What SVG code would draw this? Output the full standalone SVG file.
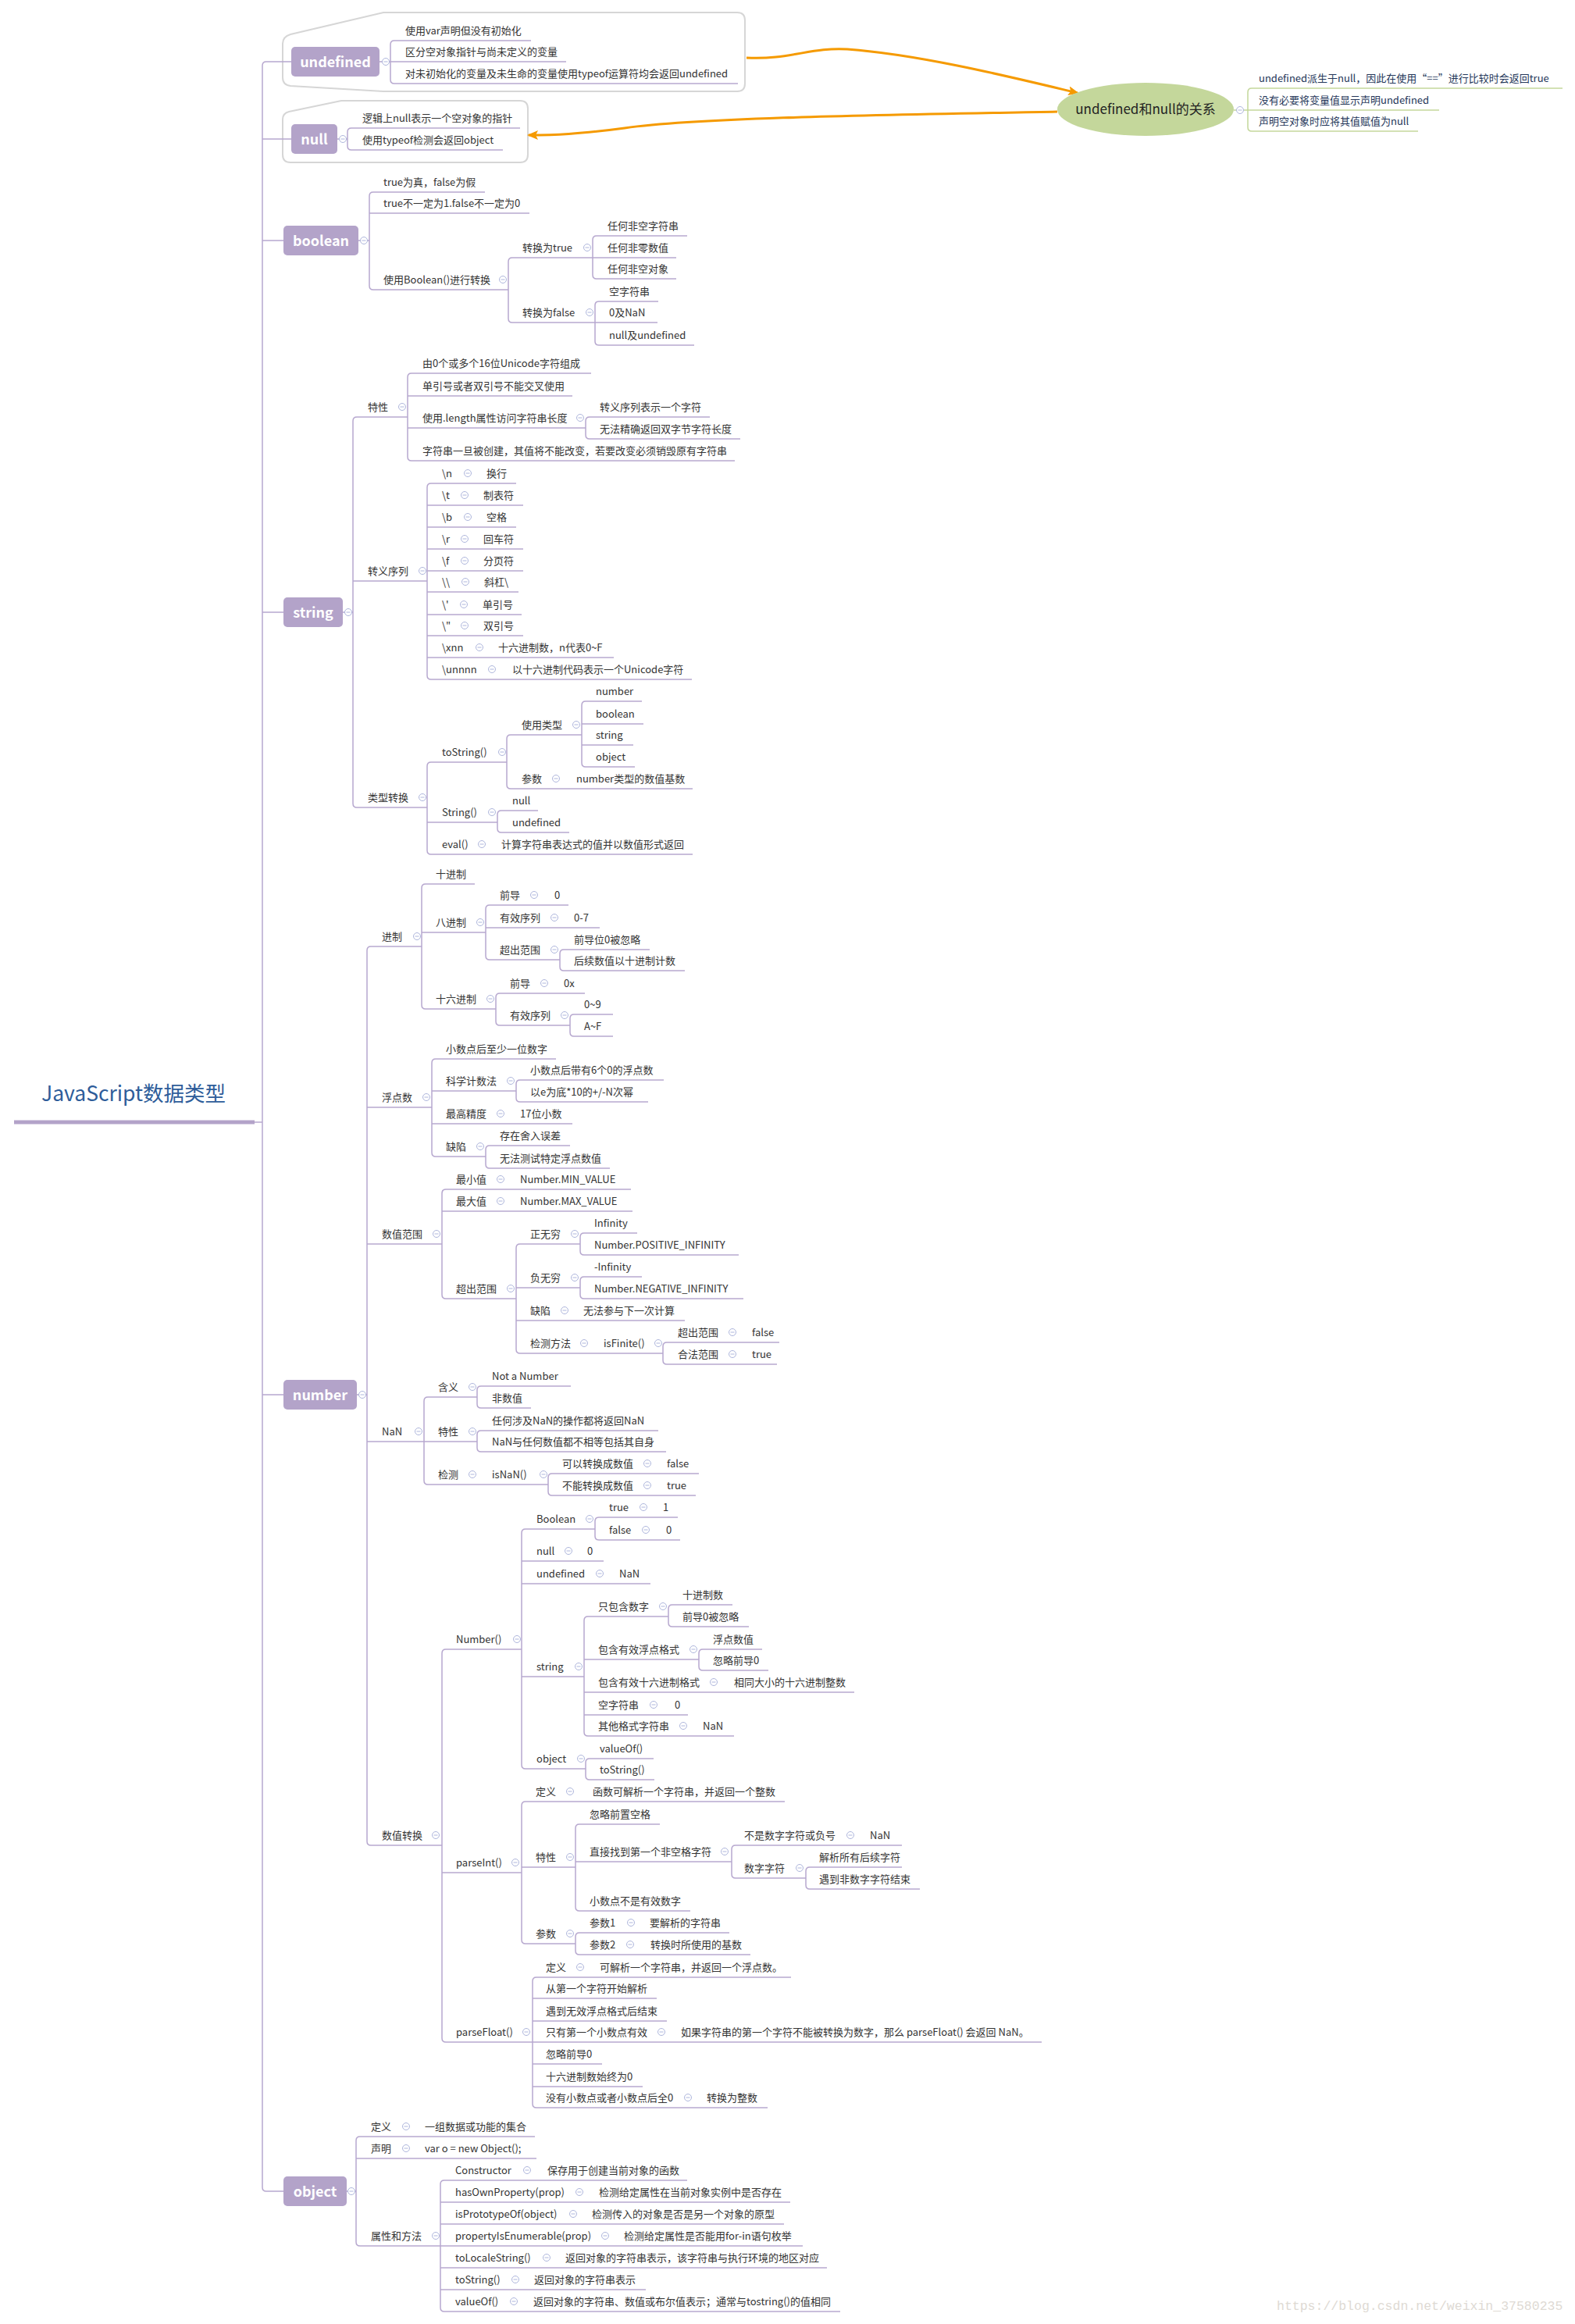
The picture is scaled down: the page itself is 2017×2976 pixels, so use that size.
<svg xmlns="http://www.w3.org/2000/svg" xmlns:xlink="http://www.w3.org/1999/xlink" width="2017" height="2976" viewBox="0 0 2017 2976">
<style>
.t{font-family:"Noto Sans CJK SC","Liberation Sans",sans-serif;font-size:13px;fill:#333}
.g{fill:#243659}
.u{stroke:#b7a8cf;stroke-width:1.5;fill:none}
.gl{stroke:#c4d79b;stroke-width:1.5;fill:none}
.box{fill:#b3a3c9}
.bt{font-family:"Noto Sans CJK SC","Liberation Sans",sans-serif;font-size:18px;font-weight:bold;fill:#fff;text-anchor:middle}
.bd{fill:#fff;stroke:#d6d6d6;stroke-width:2}
.or{stroke:#f59a00;stroke-width:3;fill:none}
</style>
<defs>
<g id="m"><circle r="4.5" fill="#fff" stroke="#aeb6dc" stroke-width="1"/><path d="M-2.5 0H2.5" stroke="#aeb6dc" stroke-width="1"/></g>
<marker id="ar" viewBox="0 0 14 12" refX="12" refY="6" markerWidth="14" markerHeight="12" markerUnits="userSpaceOnUse" orient="auto"><path d="M0 0L14 6L0 12L3 6Z" fill="#f59a00"/></marker>
</defs>
<rect width="2017" height="2976" fill="#fff"/>

<g id="boundaries">
<path class="bd" d="M372 44L491 16H944Q954 16 954 26V107Q954 117 944 117H491L372 110Q362 109 362 99V56Q362 47 372 44Z"/>
<path class="bd" d="M370 143L437 129H666Q676 129 676 139V198Q676 208 666 208H372Q362 208 362 198V153Q362 145 370 143Z"/>
</g>

<g id="connectors">
<path class="u" d="M373 79H341Q336 79 336 84V2801Q336 2806 341 2806H363"/>
<path class="u" d="M336 178H373M336 308H363M336 784H363M336 1786H363M326 1437H336"/>
<path class="u" d="M486 79H500M432 178H445M459 308H473M439 784H452M457 1786H470M444 2806H456"/>
<path class="u" d="M505 52Q500 52 500 57V102Q500 107 505 107"/>
<path class="u" d="M450 164Q445 164 445 169V187Q445 192 450 192"/>
<path class="u" d="M478 246Q473 246 473 251V366Q473 371 478 371"/>
<path class="u" d="M656 330Q651 330 651 335V408Q651 413 656 413"/>
<path class="u" d="M764 302Q759 302 759 307V352Q759 357 764 357"/>
<path class="u" d="M767 386Q762 386 762 391V437Q762 442 767 442"/>
<path class="u" d="M457 534Q452 534 452 539V1029Q452 1034 457 1034"/>
<path class="u" d="M527 478Q522 478 522 483V585Q522 590 527 590"/>
<path class="u" d="M755 534Q750 534 750 539V557Q750 562 755 562"/>
<path class="u" d="M552 619Q547 619 547 624V865Q547 870 552 870"/>
<path class="u" d="M552 976Q547 976 547 981V1089Q547 1094 552 1094"/>
<path class="u" d="M654 941Q649 941 649 946V1005Q649 1010 654 1010"/>
<path class="u" d="M750 898Q745 898 745 903V977Q745 982 750 982"/>
<path class="u" d="M642 1038Q637 1038 637 1043V1061Q637 1066 642 1066"/>
<path class="u" d="M475 1212Q470 1212 470 1217V2358Q470 2363 475 2363"/>
<path class="u" d="M545 1132Q540 1132 540 1137V1287Q540 1292 545 1292"/>
<path class="u" d="M627 1159Q622 1159 622 1164V1224Q622 1229 627 1229"/>
<path class="u" d="M722 1216Q717 1216 717 1221V1238Q717 1243 722 1243"/>
<path class="u" d="M640 1272Q635 1272 635 1277V1308Q635 1313 640 1313"/>
<path class="u" d="M735 1299Q730 1299 730 1304V1322Q730 1327 735 1327"/>
<path class="u" d="M558 1356Q553 1356 553 1361V1476Q553 1481 558 1481"/>
<path class="u" d="M666 1383Q661 1383 661 1388V1406Q661 1411 666 1411"/>
<path class="u" d="M627 1467Q622 1467 622 1472V1491Q622 1496 627 1496"/>
<path class="u" d="M571 1523Q566 1523 566 1528V1658Q566 1663 571 1663"/>
<path class="u" d="M666 1593Q661 1593 661 1598V1728Q661 1733 666 1733"/>
<path class="u" d="M748 1579Q743 1579 743 1584V1602Q743 1607 748 1607"/>
<path class="u" d="M748 1635Q743 1635 743 1640V1658Q743 1663 748 1663"/>
<path class="u" d="M854 1719Q849 1719 849 1724V1742Q849 1747 854 1747"/>
<path class="u" d="M548 1789Q543 1789 543 1794V1896Q543 1901 548 1901"/>
<path class="u" d="M616 1775Q611 1775 611 1780V1798Q611 1803 616 1803"/>
<path class="u" d="M616 1832Q611 1832 611 1837V1854Q611 1859 616 1859"/>
<path class="u" d="M707 1887Q702 1887 702 1892V1910Q702 1915 707 1915"/>
<path class="u" d="M571 2112Q566 2112 566 2117V2610Q566 2615 571 2615"/>
<path class="u" d="M673 1958Q668 1958 668 1963V2260Q668 2265 673 2265"/>
<path class="u" d="M767 1943Q762 1943 762 1948V1967Q762 1972 767 1972"/>
<path class="u" d="M753 2070Q748 2070 748 2075V2218Q748 2223 753 2223"/>
<path class="u" d="M861 2055Q856 2055 856 2060V2078Q856 2083 861 2083"/>
<path class="u" d="M900 2112Q895 2112 895 2117V2134Q895 2139 900 2139"/>
<path class="u" d="M755 2252Q750 2252 750 2257V2274Q750 2279 755 2279"/>
<path class="u" d="M673 2307Q668 2307 668 2312V2484Q668 2489 673 2489"/>
<path class="u" d="M742 2336Q737 2336 737 2341V2442Q737 2447 742 2447"/>
<path class="u" d="M942 2363Q937 2363 937 2368V2400Q937 2405 942 2405"/>
<path class="u" d="M1037 2391Q1032 2391 1032 2396V2414Q1032 2419 1037 2419"/>
<path class="u" d="M742 2475Q737 2475 737 2480V2498Q737 2503 742 2503"/>
<path class="u" d="M687 2532Q682 2532 682 2537V2694Q682 2699 687 2699"/>
<path class="u" d="M461 2736Q456 2736 456 2741V2871Q456 2876 461 2876"/>
<path class="u" d="M569 2792Q564 2792 564 2797V2955Q564 2960 569 2960"/>
<path class="gl" d="M1580 141H1598M1603 113Q1598 113 1598 118V163Q1598 168 1603 168"/>
<path class="or" marker-end="url(#ar)" d="M956 74C1010 77 1040 60 1085 63C1180 70 1300 100 1380 119"/>
<path class="or" marker-end="url(#ar)" d="M1354 143C1150 147 900 150 800 164C740 172 710 173 677 173"/>
</g>

<g id="title">
<text x="53" y="1410" style="font-family:'Noto Sans CJK SC','Liberation Sans',sans-serif;font-size:26.5px;fill:#2e5d9a">JavaScript数据类型</text>
<path d="M18 1437H326" stroke="#b3a3c9" stroke-width="5"/>
</g>

<g id="relation">
<ellipse cx="1467" cy="140" rx="113" ry="34" fill="#c4d79b"/>
<text x="1467" y="146" text-anchor="middle" style="font-family:'Noto Sans CJK SC','Liberation Sans',sans-serif;font-size:17px;fill:#222">undefined和null的关系</text>
<use href="#m" x="1588" y="141"/>
</g>
<g id="rel-1"><path class="gl" d="M1603 113H2001"/><text class="t g" x="1612" y="105">undefined派生于null，因此在使用“==”进行比较时会返回true</text></g>
<g id="rel-2"><path class="gl" d="M1598 141H1843"/><text class="t g" x="1612" y="133">没有必要将变量值显示声明undefined</text></g>
<g id="rel-3"><path class="gl" d="M1603 168H1816"/><text class="t g" x="1612" y="160">声明空对象时应将其值赋值为null</text></g>

<!-- undefined -->
<g id="undefined"><rect class="box" x="373" y="60" width="113" height="38" rx="5"/><text class="bt" x="429.5" y="85.5">undefined</text><use href="#m" x="494" y="79"/></g>
<g id="u-1"><path class="u" d="M505 52H680"/><text class="t" x="519" y="44">使用var声明但没有初始化</text></g>
<g id="u-2"><path class="u" d="M500 79H725"/><text class="t" x="519" y="71">区分空对象指针与尚未定义的变量</text></g>
<g id="u-3"><path class="u" d="M505 107H945"/><text class="t" x="519" y="99">对未初始化的变量及未生命的变量使用typeof运算符均会返回undefined</text></g>

<!-- null -->
<g id="null"><rect class="box" x="373" y="159" width="59" height="38" rx="5"/><text class="bt" x="402.5" y="184.5">null</text><use href="#m" x="439" y="178"/></g>
<g id="n-1"><path class="u" d="M450 164H666"/><text class="t" x="464" y="156">逻辑上null表示一个空对象的指针</text></g>
<g id="n-2"><path class="u" d="M450 192H644"/><text class="t" x="464" y="184">使用typeof检测会返回object</text></g>

<!-- boolean -->
<g id="boolean"><rect class="box" x="363" y="289" width="96" height="38" rx="5"/><text class="bt" x="411" y="314.5">boolean</text><use href="#m" x="466" y="308"/></g>
<g id="b-1"><path class="u" d="M478 246H621"/><text class="t" x="491" y="238">true为真，false为假</text></g>
<g id="b-2"><path class="u" d="M473 273H678"/><text class="t" x="491" y="265">true不一定为1.false不一定为0</text></g>
<g id="b-3"><path class="u" d="M478 371H651"/><text class="t" x="491" y="363">使用Boolean()进行转换</text><use href="#m" x="644" y="358"/></g>
<g id="b-3-1"><path class="u" d="M656 330H759"/><text class="t" x="669" y="322">转换为true</text><use href="#m" x="752" y="317"/></g>
<g id="b-3-1-1"><path class="u" d="M764 302H880"/><text class="t" x="778" y="294">任何非空字符串</text></g>
<g id="b-3-1-2"><path class="u" d="M759 330H866"/><text class="t" x="778" y="322">任何非零数值</text></g>
<g id="b-3-1-3"><path class="u" d="M764 357H866"/><text class="t" x="778" y="349">任何非空对象</text></g>
<g id="b-3-2"><path class="u" d="M656 413H762"/><text class="t" x="669" y="405">转换为false</text><use href="#m" x="755" y="400"/></g>
<g id="b-3-2-1"><path class="u" d="M767 386H843"/><text class="t" x="780" y="378">空字符串</text></g>
<g id="b-3-2-2"><path class="u" d="M762 413H842"/><text class="t" x="780" y="405">0及NaN</text></g>
<g id="b-3-2-3"><path class="u" d="M767 442H889"/><text class="t" x="780" y="434">null及undefined</text></g>

<!-- string -->
<g id="string"><rect class="box" x="363" y="765" width="76" height="38" rx="5"/><text class="bt" x="401" y="790.5">string</text><use href="#m" x="446" y="784"/></g>
<g id="s-1"><path class="u" d="M457 534H522"/><text class="t" x="471" y="526">特性</text><use href="#m" x="515" y="521"/></g>
<g id="s-1-1"><path class="u" d="M527 478H757"/><text class="t" x="541" y="470">由0个或多个16位Unicode字符组成</text></g>
<g id="s-1-2"><path class="u" d="M522 507H733"/><text class="t" x="541" y="499">单引号或者双引号不能交叉使用</text></g>
<g id="s-1-3"><path class="u" d="M522 548H750"/><text class="t" x="541" y="540">使用.length属性访问字符串长度</text><use href="#m" x="743" y="535"/></g>
<g id="s-1-3-1"><path class="u" d="M755 534H909"/><text class="t" x="768" y="526">转义序列表示一个字符</text></g>
<g id="s-1-3-2"><path class="u" d="M755 562H948"/><text class="t" x="768" y="554">无法精确返回双字节字符长度</text></g>
<g id="s-1-4"><path class="u" d="M527 590H941"/><text class="t" x="541" y="582">字符串一旦被创建，其值将不能改变，若要改变必须销毁原有字符串</text></g>
<g id="s-2"><path class="u" d="M452 744H547"/><text class="t" x="471" y="736">转义序列</text><use href="#m" x="541" y="731"/></g>
<g id="s-2-1"><path class="u" d="M552 619H661"/><text class="t" x="566" y="611">\n</text><use href="#m" x="599" y="606"/><text class="t" x="623" y="611">换行</text></g>
<g id="s-2-2"><path class="u" d="M547 647H670"/><text class="t" x="566" y="639">\t</text><use href="#m" x="595" y="634"/><text class="t" x="619" y="639">制表符</text></g>
<g id="s-2-3"><path class="u" d="M547 675H661"/><text class="t" x="566" y="667">\b</text><use href="#m" x="599" y="662"/><text class="t" x="623" y="667">空格</text></g>
<g id="s-2-4"><path class="u" d="M547 703H670"/><text class="t" x="566" y="695">\r</text><use href="#m" x="595" y="690"/><text class="t" x="619" y="695">回车符</text></g>
<g id="s-2-5"><path class="u" d="M547 731H670"/><text class="t" x="566" y="723">\f</text><use href="#m" x="595" y="718"/><text class="t" x="619" y="723">分页符</text></g>
<g id="s-2-6"><path class="u" d="M547 758H664"/><text class="t" x="566" y="750">\\</text><use href="#m" x="596" y="745"/><text class="t" x="620" y="750">斜杠\</text></g>
<g id="s-2-7"><path class="u" d="M547 787H668"/><text class="t" x="566" y="779">\'</text><use href="#m" x="594" y="774"/><text class="t" x="618" y="779">单引号</text></g>
<g id="s-2-8"><path class="u" d="M547 814H670"/><text class="t" x="566" y="806">\"</text><use href="#m" x="595" y="801"/><text class="t" x="619" y="806">双引号</text></g>
<g id="s-2-9"><path class="u" d="M547 842H786"/><text class="t" x="566" y="834">\xnn</text><use href="#m" x="614" y="829"/><text class="t" x="638" y="834">十六进制数，n代表0~F</text></g>
<g id="s-2-10"><path class="u" d="M552 870H886"/><text class="t" x="566" y="862">\unnnn</text><use href="#m" x="630" y="857"/><text class="t" x="656" y="862">以十六进制代码表示一个Unicode字符</text></g>
<g id="s-3"><path class="u" d="M457 1034H547"/><text class="t" x="471" y="1026">类型转换</text><use href="#m" x="541" y="1021"/></g>
<g id="s-3-1"><path class="u" d="M552 976H649"/><text class="t" x="566" y="968">toString()</text><use href="#m" x="643" y="963"/></g>
<g id="s-3-1-1"><path class="u" d="M654 941H745"/><text class="t" x="668" y="933">使用类型</text><use href="#m" x="738" y="928"/></g>
<g id="s-3-1-1-1"><path class="u" d="M750 898H822"/><text class="t" x="763" y="890">number</text></g>
<g id="s-3-1-1-2"><path class="u" d="M745 927H824"/><text class="t" x="763" y="919">boolean</text></g>
<g id="s-3-1-1-3"><path class="u" d="M745 954H811"/><text class="t" x="763" y="946">string</text></g>
<g id="s-3-1-1-4"><path class="u" d="M750 982H813"/><text class="t" x="763" y="974">object</text></g>
<g id="s-3-1-2"><path class="u" d="M654 1010H887"/><text class="t" x="668" y="1002">参数</text><use href="#m" x="712" y="997"/><text class="t" x="738" y="1002">number类型的数值基数</text></g>
<g id="s-3-2"><path class="u" d="M547 1053H637"/><text class="t" x="566" y="1045">String()</text><use href="#m" x="630" y="1040"/></g>
<g id="s-3-2-1"><path class="u" d="M642 1038H689"/><text class="t" x="656" y="1030">null</text></g>
<g id="s-3-2-2"><path class="u" d="M642 1066H729"/><text class="t" x="656" y="1058">undefined</text></g>
<g id="s-3-3"><path class="u" d="M552 1094H887"/><text class="t" x="566" y="1086">eval()</text><use href="#m" x="617" y="1081"/><text class="t" x="642" y="1086">计算字符串表达式的值并以数值形式返回</text></g>

<!-- number -->
<g id="number"><rect class="box" x="363" y="1767" width="94" height="38" rx="5"/><text class="bt" x="410" y="1792.5">number</text><use href="#m" x="464" y="1786"/></g>
<g id="nb-1"><path class="u" d="M475 1212H540"/><text class="t" x="489" y="1204">进制</text><use href="#m" x="534" y="1199"/></g>
<g id="nb-1-1"><path class="u" d="M545 1132H608"/><text class="t" x="558" y="1124">十进制</text></g>
<g id="nb-1-2"><path class="u" d="M540 1194H622"/><text class="t" x="558" y="1186">八进制</text><use href="#m" x="615" y="1181"/></g>
<g id="nb-1-2-1"><path class="u" d="M627 1159H728"/><text class="t" x="640" y="1151">前导</text><use href="#m" x="684" y="1146"/><text class="t" x="710" y="1151">0</text></g>
<g id="nb-1-2-2"><path class="u" d="M622 1188H768"/><text class="t" x="640" y="1180">有效序列</text><use href="#m" x="710" y="1175"/><text class="t" x="735" y="1180">0-7</text></g>
<g id="nb-1-2-3"><path class="u" d="M627 1229H717"/><text class="t" x="640" y="1221">超出范围</text><use href="#m" x="710" y="1216"/></g>
<g id="nb-1-2-3-1"><path class="u" d="M722 1216H832"/><text class="t" x="735" y="1208">前导位0被忽略</text></g>
<g id="nb-1-2-3-2"><path class="u" d="M722 1243H877"/><text class="t" x="735" y="1235">后续数值以十进制计数</text></g>
<g id="nb-1-3"><path class="u" d="M545 1292H635"/><text class="t" x="558" y="1284">十六进制</text><use href="#m" x="628" y="1279"/></g>
<g id="nb-1-3-1"><path class="u" d="M640 1272H749"/><text class="t" x="653" y="1264">前导</text><use href="#m" x="697" y="1259"/><text class="t" x="722" y="1264">0x</text></g>
<g id="nb-1-3-2"><path class="u" d="M640 1313H730"/><text class="t" x="653" y="1305">有效序列</text><use href="#m" x="723" y="1300"/></g>
<g id="nb-1-3-2-1"><path class="u" d="M735 1299H785"/><text class="t" x="748" y="1291">0~9</text></g>
<g id="nb-1-3-2-2"><path class="u" d="M735 1327H785"/><text class="t" x="748" y="1319">A~F</text></g>
<g id="nb-2"><path class="u" d="M470 1418H553"/><text class="t" x="489" y="1410">浮点数</text><use href="#m" x="546" y="1405"/></g>
<g id="nb-2-1"><path class="u" d="M558 1356H712"/><text class="t" x="571" y="1348">小数点后至少一位数字</text></g>
<g id="nb-2-2"><path class="u" d="M553 1397H661"/><text class="t" x="571" y="1389">科学计数法</text><use href="#m" x="654" y="1384"/></g>
<g id="nb-2-2-1"><path class="u" d="M666 1383H850"/><text class="t" x="679" y="1375">小数点后带有6个0的浮点数</text></g>
<g id="nb-2-2-2"><path class="u" d="M666 1411H830"/><text class="t" x="679" y="1403">以e为底*10的+/-N次幂</text></g>
<g id="nb-2-3"><path class="u" d="M553 1439H733"/><text class="t" x="571" y="1431">最高精度</text><use href="#m" x="641" y="1426"/><text class="t" x="666" y="1431">17位小数</text></g>
<g id="nb-2-4"><path class="u" d="M558 1481H622"/><text class="t" x="571" y="1473">缺陷</text><use href="#m" x="615" y="1468"/></g>
<g id="nb-2-4-1"><path class="u" d="M627 1467H730"/><text class="t" x="640" y="1459">存在舍入误差</text></g>
<g id="nb-2-4-2"><path class="u" d="M627 1496H781"/><text class="t" x="640" y="1488">无法测试特定浮点数值</text></g>
<g id="nb-3"><path class="u" d="M470 1593H566"/><text class="t" x="489" y="1585">数值范围</text><use href="#m" x="559" y="1580"/></g>
<g id="nb-3-1"><path class="u" d="M571 1523H808"/><text class="t" x="584" y="1515">最小值</text><use href="#m" x="641" y="1510"/><text class="t" x="666" y="1515">Number.MIN_VALUE</text></g>
<g id="nb-3-2"><path class="u" d="M566 1551H810"/><text class="t" x="584" y="1543">最大值</text><use href="#m" x="641" y="1538"/><text class="t" x="666" y="1543">Number.MAX_VALUE</text></g>
<g id="nb-3-3"><path class="u" d="M571 1663H661"/><text class="t" x="584" y="1655">超出范围</text><use href="#m" x="654" y="1650"/></g>
<g id="nb-3-3-1"><path class="u" d="M666 1593H743"/><text class="t" x="679" y="1585">正无穷</text><use href="#m" x="736" y="1580"/></g>
<g id="nb-3-3-1-1"><path class="u" d="M748 1579H816"/><text class="t" x="761" y="1571">Infinity</text></g>
<g id="nb-3-3-1-2"><path class="u" d="M748 1607H946"/><text class="t" x="761" y="1599">Number.POSITIVE_INFINITY</text></g>
<g id="nb-3-3-2"><path class="u" d="M661 1649H743"/><text class="t" x="679" y="1641">负无穷</text><use href="#m" x="736" y="1636"/></g>
<g id="nb-3-3-2-1"><path class="u" d="M748 1635H822"/><text class="t" x="761" y="1627">-Infinity</text></g>
<g id="nb-3-3-2-2"><path class="u" d="M748 1663H952"/><text class="t" x="761" y="1655">Number.NEGATIVE_INFINITY</text></g>
<g id="nb-3-3-3"><path class="u" d="M661 1691H877"/><text class="t" x="679" y="1683">缺陷</text><use href="#m" x="723" y="1678"/><text class="t" x="747" y="1683">无法参与下一次计算</text></g>
<g id="nb-3-3-4"><path class="u" d="M666 1733H849"/><text class="t" x="679" y="1725">检测方法</text><use href="#m" x="748" y="1720"/><text class="t" x="773" y="1725">isFinite()</text><use href="#m" x="843" y="1720"/></g>
<g id="nb-3-3-4-1"><path class="u" d="M854 1719H998"/><text class="t" x="868" y="1711">超出范围</text><use href="#m" x="938" y="1706"/><text class="t" x="963" y="1711">false</text></g>
<g id="nb-3-3-4-2"><path class="u" d="M854 1747H995"/><text class="t" x="868" y="1739">合法范围</text><use href="#m" x="938" y="1734"/><text class="t" x="963" y="1739">true</text></g>
<g id="nb-4"><path class="u" d="M470 1846H543"/><text class="t" x="489" y="1838">NaN</text><use href="#m" x="536" y="1833"/></g>
<g id="nb-4-1"><path class="u" d="M548 1789H611"/><text class="t" x="561" y="1781">含义</text><use href="#m" x="605" y="1776"/></g>
<g id="nb-4-1-1"><path class="u" d="M616 1775H731"/><text class="t" x="630" y="1767">Not a Number</text></g>
<g id="nb-4-1-2"><path class="u" d="M616 1803H680"/><text class="t" x="630" y="1795">非数值</text></g>
<g id="nb-4-2"><path class="u" d="M543 1846H611"/><text class="t" x="561" y="1838">特性</text><use href="#m" x="605" y="1833"/></g>
<g id="nb-4-2-1"><path class="u" d="M616 1832H843"/><text class="t" x="630" y="1824">任何涉及NaN的操作都将返回NaN</text></g>
<g id="nb-4-2-2"><path class="u" d="M616 1859H853"/><text class="t" x="630" y="1851">NaN与任何数值都不相等包括其自身</text></g>
<g id="nb-4-3"><path class="u" d="M548 1901H702"/><text class="t" x="561" y="1893">检测</text><use href="#m" x="605" y="1888"/><text class="t" x="630" y="1893">isNaN()</text><use href="#m" x="696" y="1888"/></g>
<g id="nb-4-3-1"><path class="u" d="M707 1887H895"/><text class="t" x="720" y="1879">可以转换成数值</text><use href="#m" x="829" y="1874"/><text class="t" x="854" y="1879">false</text></g>
<g id="nb-4-3-2"><path class="u" d="M707 1915H891"/><text class="t" x="720" y="1907">不能转换成数值</text><use href="#m" x="829" y="1902"/><text class="t" x="854" y="1907">true</text></g>
<g id="nb-5"><path class="u" d="M475 2363H566"/><text class="t" x="489" y="2355">数值转换</text><use href="#m" x="558" y="2350"/></g>
<g id="nb-5-1"><path class="u" d="M571 2112H668"/><text class="t" x="584" y="2104">Number()</text><use href="#m" x="662" y="2099"/></g>
<g id="nb-5-1-1"><path class="u" d="M673 1958H762"/><text class="t" x="687" y="1950">Boolean</text><use href="#m" x="755" y="1945"/></g>
<g id="nb-5-1-1-1"><path class="u" d="M767 1943H868"/><text class="t" x="780" y="1935">true</text><use href="#m" x="824" y="1930"/><text class="t" x="849" y="1935">1</text></g>
<g id="nb-5-1-1-2"><path class="u" d="M767 1972H871"/><text class="t" x="780" y="1964">false</text><use href="#m" x="827" y="1959"/><text class="t" x="853" y="1964">0</text></g>
<g id="nb-5-1-2"><path class="u" d="M668 1999H773"/><text class="t" x="687" y="1991">null</text><use href="#m" x="728" y="1986"/><text class="t" x="752" y="1991">0</text></g>
<g id="nb-5-1-3"><path class="u" d="M668 2028H833"/><text class="t" x="687" y="2020">undefined</text><use href="#m" x="768" y="2015"/><text class="t" x="793" y="2020">NaN</text></g>
<g id="nb-5-1-4"><path class="u" d="M668 2147H748"/><text class="t" x="687" y="2139">string</text><use href="#m" x="741" y="2134"/></g>
<g id="nb-5-1-4-1"><path class="u" d="M753 2070H856"/><text class="t" x="766" y="2062">只包含数字</text><use href="#m" x="849" y="2057"/></g>
<g id="nb-5-1-4-1-1"><path class="u" d="M861 2055H938"/><text class="t" x="874" y="2047">十进制数</text></g>
<g id="nb-5-1-4-1-2"><path class="u" d="M861 2083H959"/><text class="t" x="874" y="2075">前导0被忽略</text></g>
<g id="nb-5-1-4-2"><path class="u" d="M748 2125H895"/><text class="t" x="766" y="2117">包含有效浮点格式</text><use href="#m" x="888" y="2112"/></g>
<g id="nb-5-1-4-2-1"><path class="u" d="M900 2112H976"/><text class="t" x="913" y="2104">浮点数值</text></g>
<g id="nb-5-1-4-2-2"><path class="u" d="M900 2139H984"/><text class="t" x="913" y="2131">忽略前导0</text></g>
<g id="nb-5-1-4-3"><path class="u" d="M748 2167H1094"/><text class="t" x="766" y="2159">包含有效十六进制格式</text><use href="#m" x="914" y="2154"/><text class="t" x="940" y="2159">相同大小的十六进制整数</text></g>
<g id="nb-5-1-4-4"><path class="u" d="M748 2196H881"/><text class="t" x="766" y="2188">空字符串</text><use href="#m" x="837" y="2183"/><text class="t" x="864" y="2188">0</text></g>
<g id="nb-5-1-4-5"><path class="u" d="M753 2223H940"/><text class="t" x="766" y="2215">其他格式字符串</text><use href="#m" x="875" y="2210"/><text class="t" x="900" y="2215">NaN</text></g>
<g id="nb-5-1-5"><path class="u" d="M673 2265H750"/><text class="t" x="687" y="2257">object</text><use href="#m" x="744" y="2252"/></g>
<g id="nb-5-1-5-1"><path class="u" d="M755 2252H837"/><text class="t" x="768" y="2244">valueOf()</text></g>
<g id="nb-5-1-5-2"><path class="u" d="M755 2279H838"/><text class="t" x="768" y="2271">toString()</text></g>
<g id="nb-5-2"><path class="u" d="M566 2398H668"/><text class="t" x="584" y="2390">parseInt()</text><use href="#m" x="660" y="2385"/></g>
<g id="nb-5-2-1"><path class="u" d="M673 2307H1005"/><text class="t" x="686" y="2299">定义</text><use href="#m" x="730" y="2294"/><text class="t" x="759" y="2299">函数可解析一个字符串，并返回一个整数</text></g>
<g id="nb-5-2-2"><path class="u" d="M668 2391H737"/><text class="t" x="686" y="2383">特性</text><use href="#m" x="730" y="2378"/></g>
<g id="nb-5-2-2-1"><path class="u" d="M742 2336H845"/><text class="t" x="755" y="2328">忽略前置空格</text></g>
<g id="nb-5-2-2-2"><path class="u" d="M737 2384H937"/><text class="t" x="755" y="2376">直接找到第一个非空格字符</text><use href="#m" x="928" y="2371"/></g>
<g id="nb-5-2-2-2-1"><path class="u" d="M942 2363H1155"/><text class="t" x="953" y="2355">不是数字字符或负号</text><use href="#m" x="1089" y="2350"/><text class="t" x="1114" y="2355">NaN</text></g>
<g id="nb-5-2-2-2-2"><path class="u" d="M942 2405H1032"/><text class="t" x="953" y="2397">数字字符</text><use href="#m" x="1024" y="2392"/></g>
<g id="nb-5-2-2-2-2-1"><path class="u" d="M1037 2391H1155"/><text class="t" x="1049" y="2383">解析所有后续字符</text></g>
<g id="nb-5-2-2-2-2-2"><path class="u" d="M1037 2419H1178"/><text class="t" x="1049" y="2411">遇到非数字字符结束</text></g>
<g id="nb-5-2-2-3"><path class="u" d="M742 2447H884"/><text class="t" x="755" y="2439">小数点不是有效数字</text></g>
<g id="nb-5-2-3"><path class="u" d="M673 2489H737"/><text class="t" x="686" y="2481">参数</text><use href="#m" x="730" y="2476"/></g>
<g id="nb-5-2-3-1"><path class="u" d="M742 2475H934"/><text class="t" x="755" y="2467">参数1</text><use href="#m" x="808" y="2462"/><text class="t" x="832" y="2467">要解析的字符串</text></g>
<g id="nb-5-2-3-2"><path class="u" d="M742 2503H961"/><text class="t" x="755" y="2495">参数2</text><use href="#m" x="807" y="2490"/><text class="t" x="833" y="2495">转换时所使用的基数</text></g>
<g id="nb-5-3"><path class="u" d="M571 2615H682"/><text class="t" x="584" y="2607">parseFloat()</text><use href="#m" x="674" y="2602"/></g>
<g id="nb-5-3-1"><path class="u" d="M687 2532H1013"/><text class="t" x="699" y="2524">定义</text><use href="#m" x="743" y="2519"/><text class="t" x="768" y="2524">可解析一个字符串，并返回一个浮点数。</text></g>
<g id="nb-5-3-2"><path class="u" d="M682 2559H841"/><text class="t" x="699" y="2551">从第一个字符开始解析</text></g>
<g id="nb-5-3-3"><path class="u" d="M682 2588H854"/><text class="t" x="699" y="2580">遇到无效浮点格式后结束</text></g>
<g id="nb-5-3-4"><path class="u" d="M682 2615H1334"/><text class="t" x="699" y="2607">只有第一个小数点有效</text><use href="#m" x="847" y="2602"/><text class="t" x="872" y="2607">如果字符串的第一个字符不能被转换为数字，那么 parseFloat() 会返回 NaN。</text></g>
<g id="nb-5-3-5"><path class="u" d="M682 2643H771"/><text class="t" x="699" y="2635">忽略前导0</text></g>
<g id="nb-5-3-6"><path class="u" d="M682 2672H823"/><text class="t" x="699" y="2664">十六进制数始终为0</text></g>
<g id="nb-5-3-7"><path class="u" d="M687 2699H983"/><text class="t" x="699" y="2691">没有小数点或者小数点后全0</text><use href="#m" x="881" y="2686"/><text class="t" x="905" y="2691">转换为整数</text></g>

<!-- object -->
<g id="object"><rect class="box" x="363" y="2787" width="81" height="38" rx="5"/><text class="bt" x="403.5" y="2812.5">object</text><use href="#m" x="450" y="2806"/></g>
<g id="o-1"><path class="u" d="M461 2736H685"/><text class="t" x="475" y="2728">定义</text><use href="#m" x="520" y="2723"/><text class="t" x="544" y="2728">一组数据或功能的集合</text></g>
<g id="o-2"><path class="u" d="M456 2764H687"/><text class="t" x="475" y="2756">声明</text><use href="#m" x="520" y="2751"/><text class="t" x="544" y="2756">var o = new Object();</text></g>
<g id="o-3"><path class="u" d="M461 2876H564"/><text class="t" x="475" y="2868">属性和方法</text><use href="#m" x="558" y="2863"/></g>
<g id="o-3-1"><path class="u" d="M569 2792H880"/><text class="t" x="583" y="2784">Constructor</text><use href="#m" x="675" y="2779"/><text class="t" x="701" y="2784">保存用于创建当前对象的函数</text></g>
<g id="o-3-2"><path class="u" d="M564 2820H1012"/><text class="t" x="583" y="2812">hasOwnProperty(prop)</text><use href="#m" x="742" y="2807"/><text class="t" x="767" y="2812">检测给定属性在当前对象实例中是否存在</text></g>
<g id="o-3-3"><path class="u" d="M564 2848H1004"/><text class="t" x="583" y="2840">isPrototypeOf(object)</text><use href="#m" x="734" y="2835"/><text class="t" x="758" y="2840">检测传入的对象是否是另一个对象的原型</text></g>
<g id="o-3-4"><path class="u" d="M564 2876H1028"/><text class="t" x="583" y="2868">propertyIsEnumerable(prop)</text><use href="#m" x="775" y="2863"/><text class="t" x="799" y="2868">检测给定属性是否能用for-in语句枚举</text></g>
<g id="o-3-5"><path class="u" d="M564 2904H1059"/><text class="t" x="583" y="2896">toLocaleString()</text><use href="#m" x="700" y="2891"/><text class="t" x="724" y="2896">返回对象的字符串表示，该字符串与执行环境的地区对应</text></g>
<g id="o-3-6"><path class="u" d="M564 2932H827"/><text class="t" x="583" y="2924">toString()</text><use href="#m" x="660" y="2919"/><text class="t" x="684" y="2924">返回对象的字符串表示</text></g>
<g id="o-3-7"><path class="u" d="M569 2960H1076"/><text class="t" x="583" y="2952">valueOf()</text><use href="#m" x="658" y="2947"/><text class="t" x="683" y="2952">返回对象的字符串、数值或布尔值表示；通常与tostring()的值相同</text></g>

<text x="1635" y="2958" style="font-family:'Liberation Mono',monospace;font-size:16.5px;fill:#dedad4">https://blog.csdn.net/weixin_37580235</text>
</svg>
